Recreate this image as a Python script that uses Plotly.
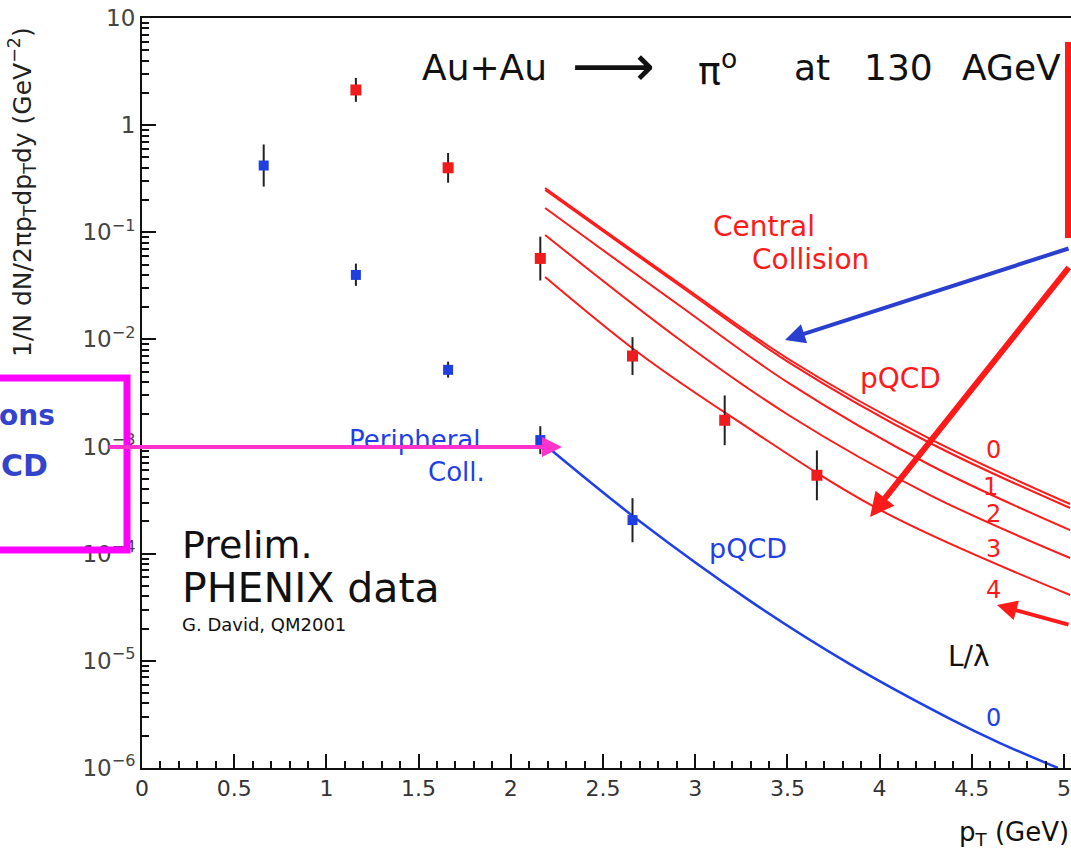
import plotly.graph_objects as go

# ---------------- data ----------------
central_pt = [1.16, 1.66, 2.16, 2.66, 3.16, 3.66]
central_y = [2.13, 0.40, 0.057, 0.0070, 0.00176, 0.00054]
central_hi = [2.76, 0.55, 0.091, 0.0105, 0.0030, 0.00092]
central_lo = [1.65, 0.29, 0.0355, 0.00465, 0.00103, 0.000315]

periph_pt = [0.66, 1.16, 1.66, 2.16, 2.66]
periph_y = [0.42, 0.040, 0.0052, 0.00115, 0.000206]
periph_hi = [0.66, 0.051, 0.0062, 0.00155, 0.00033]
periph_lo = [0.267, 0.0316, 0.0044, 0.00085, 0.000128]

# pQCD with energy loss, L/lambda = 0..4 (central)
curve0_pt = [2.186, 2.918, 3.514, 4.273, 5.033]
curve0_y = [0.259, 0.0329, 0.00643, 0.00118, 0.000291]
curve1_pt = [2.186, 2.918, 3.514, 4.273, 5.033]
curve1_y = [0.248, 0.0315, 0.00602, 0.00108, 0.000267]
curve2_pt = [2.186, 2.918, 3.514, 4.273, 5.033]
curve2_y = [0.1686, 0.0205, 0.00384, 0.000673, 0.000166]
curve3_pt = [2.186, 2.918, 3.514, 4.273, 5.033]
curve3_y = [0.0944, 0.00988, 0.00193, 0.000353, 0.0000912]
curve4_pt = [2.186, 2.701, 3.205, 4.002, 5.033]
curve4_y = [0.0383, 0.00731, 0.00185, 0.000256, 0.0000412]

# pQCD peripheral
periph_curve_pt = [2.196, 2.690, 3.297, 3.839, 4.382, 4.653, 4.967]
periph_curve_y = [1.0e-3, 2.06e-4, 3.63e-5, 9.33e-6, 2.88e-6, 1.71e-6, 1.0e-6]

y_tickvals = [1e-6, 1e-5, 1e-4, 1e-3, 1e-2, 1e-1, 1, 10]
y_ticktext = ["10<sup>−6</sup>", "10<sup>−5</sup>", "10<sup>−4</sup>", "10<sup>−3</sup>",
              "10<sup>−2</sup>", "10<sup>−1</sup>", "1", "10"]
x_tickvals = [0, 0.5, 1, 1.5, 2, 2.5, 3, 3.5, 4, 4.5, 5]
x_ticktext = ["0", "0.5", "1", "1.5", "2", "2.5", "3", "3.5", "4", "4.5", "5"]

RED = "#ff1a1a"
BLUE = "#1f3fe8"
TEXTBLUE = "#3344cc"
MAG = "#ff00ff"

W, H = 1071, 856
L, R, T, B = 142, 0, 18, 88
PW, PH = W - L - R, H - T - B


def P(px, py):
    return (px - L) / PW, (H - B - py) / PH


fig = go.Figure()

for xs, ys in [(curve0_pt, curve0_y), (curve1_pt, curve1_y), (curve2_pt, curve2_y),
               (curve3_pt, curve3_y), (curve4_pt, curve4_y)]:
    fig.add_trace(go.Scatter(x=xs, y=ys, mode="lines", line=dict(color=RED, width=2, shape="spline"),
                             showlegend=False, cliponaxis=False))

fig.add_trace(go.Scatter(x=periph_curve_pt, y=periph_curve_y, mode="lines",
                         line=dict(color=BLUE, width=2.5, shape="spline"), showlegend=False))

fig.add_trace(go.Scatter(
    x=central_pt, y=central_y, mode="markers",
    marker=dict(symbol="square", size=11, color="#ee1c1c"),
    error_y=dict(type="data", symmetric=False,
                 array=[h - v for h, v in zip(central_hi, central_y)],
                 arrayminus=[v - l for v, l in zip(central_y, central_lo)],
                 color="#222222", thickness=2, width=0),
    showlegend=False))

fig.add_trace(go.Scatter(
    x=periph_pt, y=periph_y, mode="markers",
    marker=dict(symbol="square", size=10, color="#1f3fe0"),
    error_y=dict(type="data", symmetric=False,
                 array=[h - v for h, v in zip(periph_hi, periph_y)],
                 arrayminus=[v - l for v, l in zip(periph_y, periph_lo)],
                 color="#222222", thickness=2, width=0),
    showlegend=False))

ann = []


def text(px, py, s, size, color, anchor="center", font="DejaVu Sans", angle=0):
    x, y = P(px, py)
    ann.append(dict(x=x, y=y, xref="paper", yref="paper", text=s, showarrow=False,
                    xanchor=anchor, yanchor="middle", textangle=angle,
                    font=dict(family=font, size=size, color=color)))


def arrow(tipx, tipy, tailx, taily, color, width, size=1.0):
    x, y = P(tipx, tipy)
    ann.append(dict(x=x, y=y, xref="paper", yref="paper", text="", showarrow=True,
                    ax=tailx - tipx, ay=taily - tipy, axref="pixel", ayref="pixel",
                    arrowhead=2, arrowsize=size, arrowwidth=width, arrowcolor=color))


# title, split into pieces to mimic the wide spacing of the original
TK = "#111111"
text(420, 68, "Au+Au", 36, TK, anchor="left")
text(570, 66, "⟶", 58, TK, anchor="left")
text(696, 68, "π<sup>o</sup>", 38, TK, anchor="left")
text(792, 68, "at", 36, TK, anchor="left")
text(862, 68, "130", 36, TK, anchor="left")
text(960, 68, "AGeV", 36, TK, anchor="left")

text(764, 226, "Central", 28, RED)
text(810, 259, "Collision", 28, RED)
text(900, 378, "pQCD", 28, RED)
text(993, 450, "0", 24, RED)
text(990, 487, "1", 24, RED)
text(993, 514, "2", 24, RED)
text(993, 549, "3", 24, RED)
text(993, 590, "4", 24, RED)
text(969, 656, "L/λ", 28, TK)
text(993, 718, "0", 24, BLUE)
text(748, 548, "pQCD", 27, BLUE)
text(415, 440, "Peripheral", 26, BLUE)
text(456, 472, "Coll.", 26, BLUE)
text(180, 545, "Prelim.", 38, TK, anchor="left")
text(180, 588, "PHENIX data", 41, TK, anchor="left")
text(180, 624, "G. David, QM2001", 18, TK, anchor="left")
text(57, 415, "<b>ons</b>", 28, TEXTBLUE, anchor="right")
text(50, 465, "<b>CD</b>", 30, TEXTBLUE, anchor="right")
text(1071, 833, "p<sub>T</sub> (GeV)", 26, TK, anchor="right")
text(22, 192, "1/N dN/2πp<sub>T</sub>dp<sub>T</sub>dy (GeV<sup>−2</sup>)", 25, "#222222",
     angle=-90)

arrow(870, 517, 1070, 266, RED, 6, 0.8)
arrow(785, 340, 1070, 248, "#2a3fd0", 4, 1.0)
arrow(997, 605, 1070, 625, RED, 4, 1.0)
arrow(562, 447, 107, 447, "#ff33cc", 4, 1.0)

shapes = []
bx0, by0 = P(-20, 378)
bx1, by1 = P(127, 550)
shapes.append(dict(type="rect", xref="paper", yref="paper", x0=bx0, y0=by0, x1=bx1, y1=by1,
                   line=dict(color=MAG, width=7)))
rx0, ry0 = P(1065, 42)
rx1, ry1 = P(1080, 238)
shapes.append(dict(type="rect", xref="paper", yref="paper", x0=rx0, y0=ry0, x1=rx1, y1=ry1,
                   line=dict(width=0), fillcolor=RED))

fig.update_layout(
    width=W, height=H,
    margin=dict(l=L, r=R, t=T, b=B),
    paper_bgcolor="white", plot_bgcolor="white",
    annotations=ann, shapes=shapes,
    showlegend=False,
)

fig.update_xaxes(
    range=[0, PW / 184.4], showgrid=False, zeroline=False,
    showline=True, linecolor="#111111", linewidth=2, mirror=True,
    ticks="inside", ticklen=14, tickwidth=2, tickcolor="#111111",
    tickvals=x_tickvals, ticktext=x_ticktext, ticklabeloverflow="allow",
    tickfont=dict(family="DejaVu Sans", size=22, color="#333333"),
    minor=dict(ticks="inside", ticklen=7, tickwidth=1.5, tickcolor="#111111", dtick=0.1),
)
fig.update_yaxes(
    type="log", range=[-6, 1], showgrid=False, zeroline=False,
    showline=True, linecolor="#111111", linewidth=2,
    ticks="inside", ticklen=14, tickwidth=2, tickcolor="#111111",
    tickvals=y_tickvals, ticktext=y_ticktext,
    tickfont=dict(family="DejaVu Sans", size=23, color="#444444"),
    minor=dict(ticks="inside", ticklen=7, tickwidth=1.5, tickcolor="#111111", dtick="D1"),
)

fig.write_html("out.html")
